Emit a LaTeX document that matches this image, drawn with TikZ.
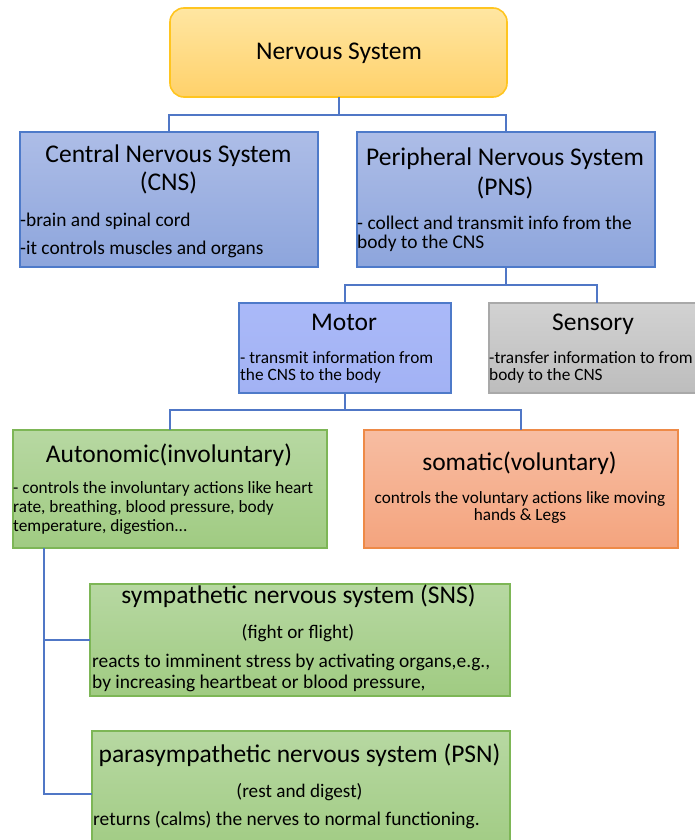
\documentclass[tikz,border=0pt]{standalone}
\usepackage{fontspec}
\setmainfont{Carlito}
\definecolor{conncol}{HTML}{5077C6}
\definecolor{goldT}{HTML}{FFE6A2}
\definecolor{goldB}{HTML}{FFD16A}
\definecolor{goldD}{HTML}{FFC520}
\definecolor{blueT}{HTML}{ADBDE7}
\definecolor{blueB}{HTML}{8DA5DC}
\definecolor{blueD}{HTML}{4E7AC9}
\definecolor{motorT}{HTML}{AAB9F8}
\definecolor{motorB}{HTML}{A2B2F4}
\definecolor{greyT}{HTML}{D2D2D2}
\definecolor{greyB}{HTML}{BDBDBD}
\definecolor{greyD}{HTML}{A9A9A9}
\definecolor{greenT}{HTML}{B7D8A2}
\definecolor{greenB}{HTML}{A0CB82}
\definecolor{greenD}{HTML}{7DB656}
\definecolor{salT}{HTML}{F7BDA2}
\definecolor{salB}{HTML}{F4A47E}
\definecolor{salD}{HTML}{EE8A47}
\begin{document}
\begin{tikzpicture}[x=1pt,y=-1pt,
  box/.style={draw, line width=1.6pt, anchor=north west, inner sep=0pt, outer sep=0pt},
  conn/.style={draw=conncol, line width=2pt},
  hd/.style={anchor=base, inner sep=0pt, font=\fontsize{25.5}{30}\selectfont},
  bdL/.style={anchor=base west, inner sep=0pt, font=\fontsize{19.4}{22}\selectfont},
  bdS/.style={anchor=base west, inner sep=0pt, font=\fontsize{17.3}{20}\selectfont},
  bdC/.style={anchor=base, inner sep=0pt, font=\fontsize{17.2}{20}\selectfont},
  bdM/.style={anchor=base, inner sep=0pt, font=\fontsize{19.2}{22}\selectfont}]
\useasboundingbox (0,0) rectangle (694,840);
\fill[white] (0,0) rectangle (694,840);

% boxes
\node[box, rounded corners=14pt, draw=goldD, top color=goldT, bottom color=goldB,
      minimum width=337pt, minimum height=89pt] (ns) at (170,8) {};
\node[box, draw=blueD, top color=blueT, bottom color=blueB,
      minimum width=298pt, minimum height=135pt] (cns) at (20,132) {};
\node[box, draw=blueD, top color=blueT, bottom color=blueB,
      minimum width=298pt, minimum height=135pt] (pns) at (357,132) {};
\node[box, draw=blueD, top color=motorT, bottom color=motorB,
      minimum width=212pt, minimum height=90pt] (mot) at (239,303) {};
\node[box, draw=greyD, top color=greyT, bottom color=greyB,
      minimum width=215pt, minimum height=90pt] (sen) at (489,303) {};
\node[box, draw=greenD, top color=greenT, bottom color=greenB,
      minimum width=314pt, minimum height=118pt] (aut) at (13,430) {};
\node[box, draw=salD, top color=salT, bottom color=salB,
      minimum width=314pt, minimum height=118pt] (som) at (364,430) {};
\node[box, draw=greenD, top color=greenT, bottom color=greenB,
      minimum width=420pt, minimum height=112pt] (sns) at (90,584) {};
\node[box, draw=greenD, top color=greenT, bottom color=greenB,
      minimum width=418pt, minimum height=125pt] (psn) at (92,731) {};

% connectors
\coordinate (j1) at (338.5,115);
\coordinate (j2) at (506,285);
\coordinate (j3) at (345,410);
\draw[conn] (ns.south) -- (j1);
\draw[conn] (cns.north) |- (j1) -| (pns.north);
\draw[conn] (pns.south) -- (j2);
\draw[conn] (mot.north) |- (j2) -| (sen.north);
\draw[conn] (mot.south) -- (j3);
\draw[conn] (aut.north) |- (j3) -| (som.north);
\coordinate (v0) at (44,548);
\draw[conn] (v0) |- (sns.west);
\draw[conn] (v0) |- (psn.west);

% texts
\node[hd] (t0) at (339,60) {Nervous System};
\node[hd] (t1) at (168.5,162) {Central Nervous System};
\node[hd] (t2) at (168.5,190) {(CNS)};
\node[bdL] (t3) at (20,226) {-brain and spinal cord};
\node[bdL] (t4) at (20,254) {-it controls muscles and organs};
\node[hd] (t5) at (505,165) {Peripheral Nervous System};
\node[hd] (t6) at (505,195) {(PNS)};
\node[bdL] (t7) at (357,229) {- collect and transmit info from the};
\node[bdL] (t8) at (357,248) {body to the CNS};
\node[hd] (t9) at (344,330) {Motor};
\node[bdS] (t10) at (240,363) {- transmit information from};
\node[bdS] (t11) at (240,380) {the CNS to the body};
\node[hd] (t12) at (593,330) {Sensory};
\node[bdS] (t13) at (489,363) {-transfer information to from};
\node[bdS] (t14) at (489,380) {body to the CNS};
\node[hd] (t15) at (169,462) {Autonomic(involuntary)};
\node[bdS] (t16) at (13,493) {- controls the involuntary actions like heart};
\node[bdS] (t17) at (13,512) {rate, breathing, blood pressure, body};
\node[bdS] (t18) at (13,531) {temperature, digestion...};
\node[hd] (t19) at (519.5,470) {somatic(voluntary)};
\node[bdC] (t20) at (520,503) {controls the voluntary actions like moving};
\node[bdC] (t21) at (520,520) {hands \& Legs};
\node[hd] (t22) at (298.5,603) {sympathetic nervous system (SNS)};
\node[bdM] (t23) at (298,638) {(fight or flight)};
\node[bdL] (t24) at (92,667) {reacts to imminent stress by activating organs,e.g.,};
\node[bdL] (t25) at (92,688) {by increasing heartbeat or blood pressure,};
\node[hd] (t26) at (299.5,762) {parasympathetic nervous system (PSN)};
\node[bdM] (t27) at (299.5,797) {(rest and digest)};
\node[bdL] (t28) at (93,825) {returns (calms) the nerves to normal functioning.};
\end{tikzpicture}
\end{document}
